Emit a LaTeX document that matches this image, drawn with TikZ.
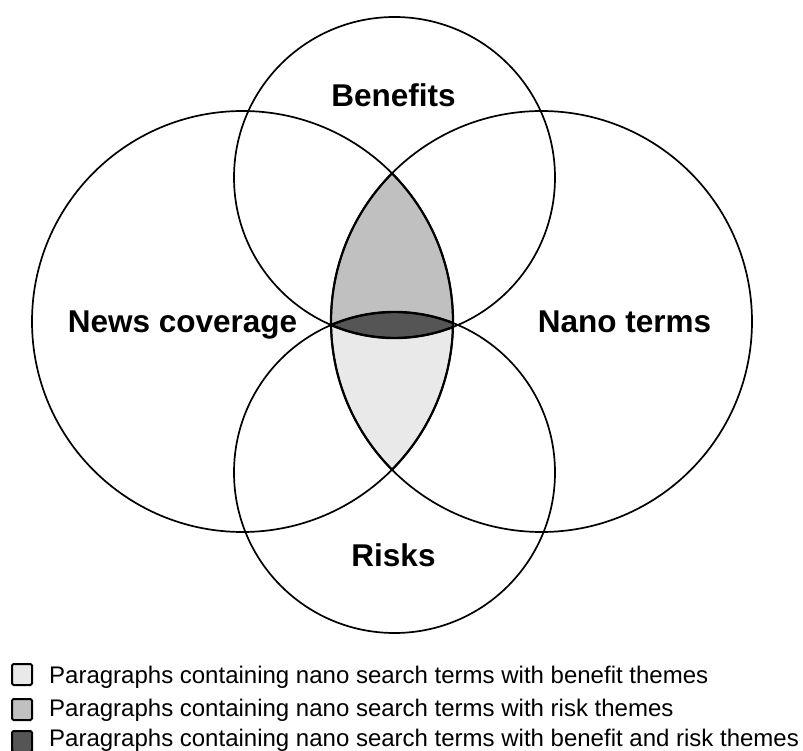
\documentclass[tikz,border=0pt]{standalone}
\usepackage{fontspec}
\setmainfont{Liberation Sans}
\definecolor{regmid}{HTML}{BFC0BF}
\definecolor{reglight}{HTML}{E9E9E9}
\definecolor{regdark}{HTML}{555555}
\begin{document}
\begin{tikzpicture}[x=1pt,y=-1pt,
  circ/.style={draw=black, line width=1.7pt},
  lab/.style={font=\fontsize{31.5}{36}\selectfont\bfseries, inner sep=0pt},
  legbox/.style={draw=black, line width=2pt, rounded corners=1.5pt, minimum width=20pt, minimum height=21pt, inner sep=0pt},
  legtext/.style={font=\fontsize{24}{28}\selectfont, inner sep=0pt}]
\useasboundingbox (0,0) rectangle (803,751);
\coordinate (cL) at (242.5,321.5);
\coordinate (cR) at (541.5,321.5);
\coordinate (cT) at (394.5,177.5);
\coordinate (cB) at (394.5,472.5);
% shaded regions
\begin{scope}
  \clip (cL) circle[radius=210.5pt];
  \clip (cR) circle[radius=210.5pt];
  \fill[regmid] (cT) circle[radius=160.5pt];
  \fill[reglight] (cB) circle[radius=160.5pt];
  \clip (cT) circle[radius=160.5pt];
  \fill[regdark] (cB) circle[radius=160.5pt];
\end{scope}
% circles
\draw[circ] (cL) circle[radius=210.5pt];
\draw[circ] (cR) circle[radius=210.5pt];
\draw[circ] (cT) circle[radius=160.5pt];
\draw[circ] (cB) circle[radius=160.5pt];
% thicker lens edges
\begin{scope}
  \clip (cL) circle[radius=210.5pt];
  \draw[line width=2.2pt] (cR) circle[radius=210.5pt];
\end{scope}
\begin{scope}
  \clip (cR) circle[radius=210.5pt];
  \draw[line width=2.2pt] (cL) circle[radius=210.5pt];
\end{scope}
\begin{scope}
  \clip (cL) circle[radius=210.5pt];
  \clip (cR) circle[radius=210.5pt];
  \draw[line width=2.4pt] (cT) circle[radius=160.5pt];
  \draw[line width=2.4pt] (cB) circle[radius=160.5pt];
\end{scope}
% labels
\node[lab, anchor=base] (benefits) at (393.5,107) {Benefits};
\node[lab, anchor=base] (news) at (182.5,332) {News coverage};
\node[lab, anchor=base] (nano) at (624.5,332) {Nano terms};
\node[lab, anchor=base] (risks) at (393.5,566) {Risks};
% legend
\node[legbox, fill=reglight] (k1) at (22,674.5) {};
\node[legbox, fill=regmid] (k2) at (22,709.5) {};
\node[legbox, fill=regdark] (k3) at (22,741.5) {};
\node[legtext, anchor=base west] (t1) at (49,683) {Paragraphs containing nano search terms with benefit themes};
\node[legtext, anchor=base west] (t2) at (49,716) {Paragraphs containing nano search terms with risk themes};
\node[legtext, anchor=base west] (t3) at (49,746.5) {Paragraphs containing nano search terms with benefit and risk themes};
\end{tikzpicture}
\end{document}
